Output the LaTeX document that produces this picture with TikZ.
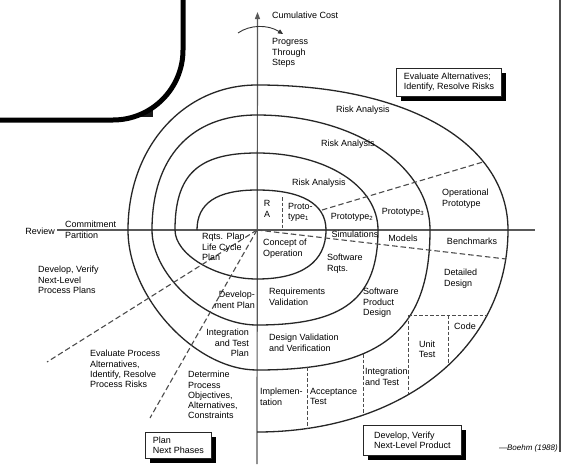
\documentclass[tikz,border=0pt]{standalone}
\usepackage{fontspec}
\setmainfont{Liberation Sans}
\usetikzlibrary{arrows.meta,shadows}
\begin{document}
\begin{tikzpicture}[x=1pt,y=-1pt,
  txt/.style={inner sep=0pt, font=\fontsize{9}{10.3}\selectfont, text=black},
  lefttxt/.style={txt, align=left, anchor=north west},
  righttxt/.style={txt, align=right, anchor=north east},
  spiral/.style={line width=1.3pt, draw=black!85},
  axisline/.style={line width=1.2pt, draw=black!65},
  radial/.style={line width=1.1pt, draw=black!70, dash pattern=on 5.5pt off 3pt},
  cell/.style={line width=1pt, draw=black!70, dash pattern=on 3.5pt off 2pt},
  phasebox/.style={txt, align=left, draw=black!85, line width=0.9pt, fill=white,
    inner xsep=4pt, inner ysep=3pt,
    drop shadow={shadow xshift=4.5pt, shadow yshift=-4.5pt, fill=black, opacity=1}},
]
\useasboundingbox (0,0) rectangle (562,464);
\fill[white] (0,0) rectangle (562,464);

% axes
\coordinate (O) at (257,230);
\coordinate (vtop) at (257.5,12);
\coordinate (vbot) at (257,464);
\coordinate (hleft) at (57,230);
\coordinate (hright) at (535,230);
\draw[axisline, -{Triangle[length=7pt,width=5pt]}] (vbot) -- (vtop);
\draw[axisline] (hleft) -- (hright);

% page rule on the right
\draw[line width=2pt, black!70] (559.5,0) -- (559.5,452);

% the spiral, one quarter turn per segment
\draw[spiral] (197,230) .. controls (197,203.2) and (216.8,190) .. (257,190)
  .. controls (301.9,190) and (326,204) .. (326,230)
  .. controls (326,261.9) and (301.9,279) .. (257,279)
  .. controls (216,279) and (175,254.5) .. (175,230)
  .. controls (175,174.6) and (198,153) .. (257,153)
  .. controls (326,153) and (378,186.1) .. (378,230)
  .. controls (378,298.4) and (344.1,325) .. (257,325)
  .. controls (206.6,325) and (152,275.6) .. (152,230)
  .. controls (152,157.5) and (190.8,115) .. (257,115)
  .. controls (353.9,115) and (430,165.6) .. (430,230)
  .. controls (430,330.8) and (381.6,370) .. (257,370)
  .. controls (195.1,370) and (128,297.2) .. (128,230)
  .. controls (128,147.3) and (183.5,85) .. (257,85)
  .. controls (407.6,85) and (508,143) .. (508,230)
  .. controls (508,347.2) and (402.6,432) .. (257,432);

% quadrant dividers
\coordinate (neA) at (322,210);
\coordinate (neB) at (483,162);
\coordinate (eB) at (506,259);
\coordinate (swA) at (47,362);
\coordinate (swB) at (150,418);
\draw[radial] (neA) -- (neB);
\draw[radial] (O) -- (eB);
\draw[radial] (O) -- (swA);
\draw[radial] (O) -- (swB);

% divider between R A and the first prototype
\coordinate (raT) at (282,197);
\coordinate (raB) at (282,229);
\draw[cell] (raT) -- (raB);

% cells of the last development cycle
\coordinate (c1) at (408,315);
\coordinate (c2) at (487,315);
\coordinate (c3) at (408,394);
\coordinate (c4) at (448,315);
\coordinate (c5) at (448,363);
\coordinate (c6) at (363,354);
\coordinate (c7) at (363,415);
\coordinate (c8) at (307,367);
\coordinate (c9) at (307,428);
\draw[cell] (c1) -- (c2);
\draw[cell] (c1) -- (c3);
\draw[cell] (c4) -- (c5);
\draw[cell] (c6) -- (c7);
\draw[cell] (c8) -- (c9);

% progress arrow
\coordinate (pgA) at (238,33);
\coordinate (pgB) at (283,34);
\draw[line width=0.9pt, black!80, -{Triangle[length=5pt,width=4.5pt]}] (pgA) .. controls (250,24.5) and (268,24.5) .. (pgB);

% labels
\node[txt, anchor=west] (cumcost) at (272,15) {Cumulative Cost};
\node[lefttxt] (progress) at (272,38.5) {Progress\\Through\\Steps};
\node[phasebox, minimum width=105pt, minimum height=28pt, anchor=north west] (evalbox) at (396,68) {Evaluate Alternatives;\\Identify, Resolve Risks};

\node[txt] (risk1) at (363,110) {Risk Analysis};
\node[txt] (risk2) at (348,144) {Risk Analysis};
\node[txt] (risk3) at (319,183) {Risk Analysis};
\node[txt, align=center] (ra) at (267,209) {R\\A};
\node[lefttxt] (proto1) at (288,203) {Proto-\\type\textsubscript{1}};
\node[txt] (proto2) at (352,217) {Prototype\textsubscript{2}};
\node[txt] (proto3) at (403,212) {Prototype\textsubscript{3}};
\node[lefttxt] (opproto) at (442,189) {Operational\\Prototype};

\node[txt] (sim) at (355,234) {Simulations};
\node[txt] (models) at (403,238) {Models};
\node[txt] (bench) at (472,241) {Benchmarks};
\node[lefttxt] (concept) at (263,239) {Concept of\\Operation};
\node[lefttxt] (swrqts) at (327,254) {Software\\Rqts.};
\node[lefttxt] (reqval) at (269,288) {Requirements\\Validation};
\node[lefttxt] (swprod) at (363,288) {Software\\Product\\Design};
\node[lefttxt] (detail) at (444,269) {Detailed\\Design};
\node[lefttxt] (desval) at (269,334) {Design Validation\\and Verification};
\node[txt] (code) at (465,326) {Code};
\node[txt, align=center] (unittest) at (427,349) {Unit\\Test};
\node[lefttxt] (inttest) at (365,368) {Integration\\and Test};
\node[lefttxt] (implem) at (260,388) {Implemen-\\tation};
\node[lefttxt] (accept) at (310,388) {Acceptance\\Test};
\node[phasebox, minimum width=98pt, minimum height=30pt, anchor=north west] (prodbox) at (363,425) {Develop, Verify\\Next-Level Product};
\node[txt, anchor=east, font=\fontsize{8}{9}\selectfont\itshape] (boehm) at (558,448) {---Boehm (1988)};

\node[lefttxt] (rqtsplan) at (202,233) {Rqts. Plan\\Life Cycle\\Plan};
\node[righttxt] (devplan) at (255,291) {Develop-\\ment Plan};
\node[righttxt] (itplan) at (249,329) {Integration\\and Test\\Plan};
\node[lefttxt] (determine) at (188,371) {Determine\\Process\\Objectives,\\Alternatives,\\Constraints};
\node[lefttxt] (evalproc) at (90,350) {Evaluate Process\\Alternatives,\\Identify, Resolve\\Process Risks};
\node[lefttxt] (devverify) at (38,266) {Develop, Verify\\Next-Level\\Process Plans};
\node[phasebox, minimum width=66pt, minimum height=26pt, anchor=north west] (planbox) at (145,432) {Plan\\Next Phases};

\node[txt, anchor=east] (review) at (55,231) {Review};
\node[txt, anchor=west] (commit) at (65,224) {Commitment};
\node[txt, anchor=west] (partition) at (65,235.5) {Partition};

% box in the upper left corner and the white panel laid over it
\fill[black!90] (60,60) rectangle (153,117);
\draw[fill=white, line width=0.8pt] (55,55) rectangle (148,112);
\draw[line width=5pt, fill=white] (-10,-10) -- (183,-10) -- (183,50)
  .. controls (183,88.6) and (151.6,120) .. (113,120) -- (-10,120) -- cycle;
\end{tikzpicture}
\end{document}
